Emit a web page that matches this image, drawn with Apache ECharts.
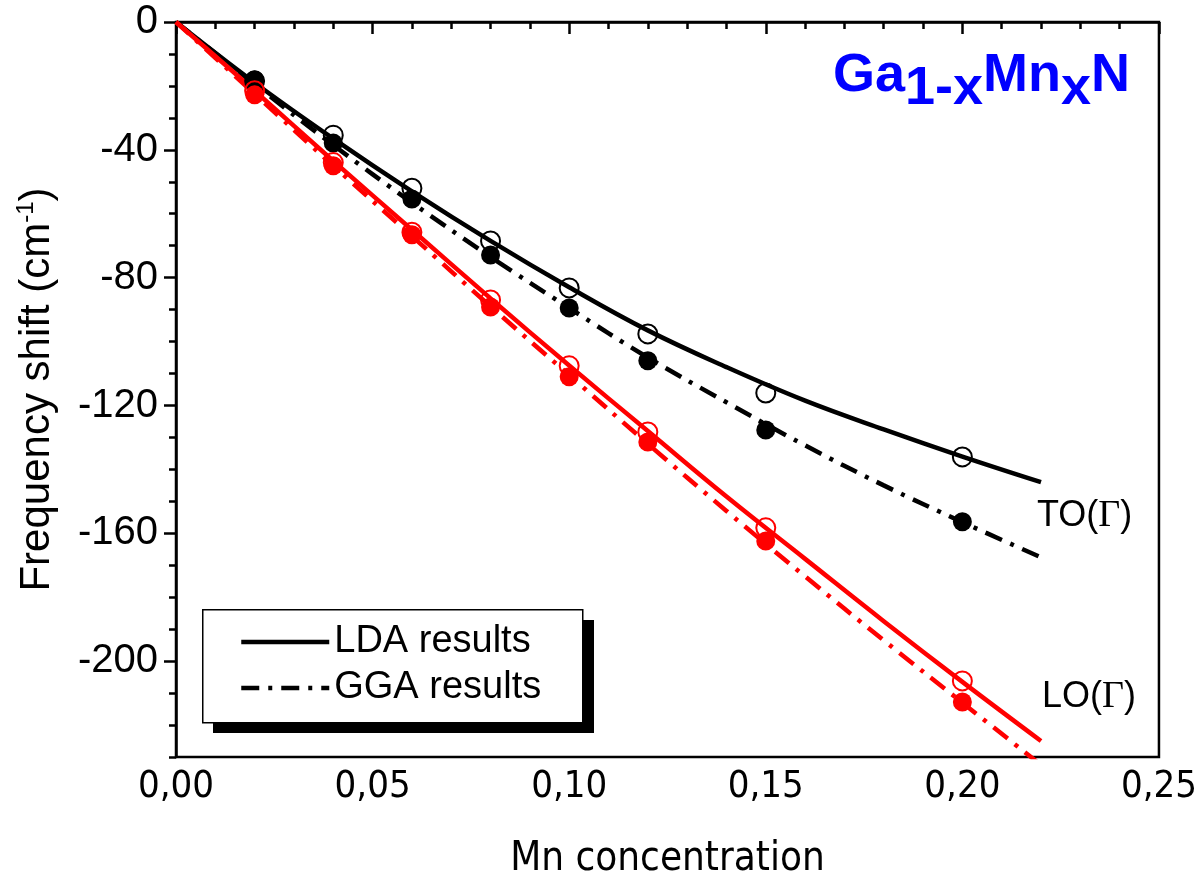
<!DOCTYPE html>
<html><head><meta charset="utf-8">
<script src="https://cdn.jsdelivr.net/npm/echarts@6/dist/echarts.min.js"></script>
<style>html,body{margin:0;padding:0;background:#fff}#c{width:1200px;height:889px}</style>
</head><body><div id="c"></div>
<script>
// Computed points (x = Mn concentration, y = frequency shift in cm^-1)
const concentrations = [0.02, 0.04, 0.06, 0.08, 0.10, 0.12, 0.15, 0.20];
const toLdaPoints = [-18.5, -35.4, -52.0, -68.5, -83.2, -97.6, -116.1, -136.1];
const toGgaPoints = [-18.1, -37.9, -55.4, -72.9, -89.5, -106.0, -127.7, -156.4];
const loLdaPoints = [-21.5, -44.0, -65.8, -87.0, -107.6, -128.3, -158.3, -206.2];
const loGgaPoints = [-22.8, -45.0, -66.6, -89.2, -111.0, -131.4, -162.4, -212.8];
// Fitted curves
const fitX = [0, 0.02, 0.04, 0.06, 0.08, 0.10, 0.12, 0.14, 0.16, 0.18, 0.20, 0.22];
const toLdaFit = [0, -19, -36.5, -53, -68.5, -83, -96.5, -108, -118.5, -127.5, -136, -144];
const toGgaFit = [0, -19.5, -38.5, -56.5, -73.5, -89.5, -105, -119, -132.5, -145, -156.5, -167.5];
const loLdaFit = [0, -21.5, -43.5, -65, -86.5, -107.5, -128, -148.5, -168, -187.5, -206.5, -225];
const loGgaFit = [0, -22.5, -45, -67, -89, -110.5, -132, -153, -173.5, -193.5, -213, -232.5];
// Axis ticks
const yMajorTicks = [0, -40, -80, -120, -160, -200];
const yMinorTicks = [0, -10, -20, -30, -40, -50, -60, -70, -80, -90, -100, -110, -120, -130, -140, -150, -160, -170, -180, -190, -200, -210, -220, -230];
const legendNames = ['LDA results', 'GGA results'];

const pair = (xs, ys) => xs.map((x, i) => [x, ys[i]]);
const RED = '#ff0000', BLACK = '#000000';
const DASHDOT = [18, 9, 4, 9];
const SANS = '"Liberation Sans", Arial, sans-serif';
const NARROW = '"Liberation Sans Narrow", "Arial Narrow", "DejaVu Sans Condensed", sans-serif';

function fit(name, ys, color, dashed) {
  return {
    type: 'line', name: name, data: pair(fitX, ys), smooth: 0.4,
    symbol: 'none', clip: true,
    lineStyle: { color: color, width: 4.5, type: dashed ? DASHDOT : 'solid', cap: 'butt' },
    itemStyle: { color: color }, z: 3
  };
}
function pts(name, ys, color, open) {
  return {
    type: 'scatter', name: name, data: pair(concentrations, ys), symbol: 'circle', symbolSize: 19,
    itemStyle: open ? { color: 'rgba(0,0,0,0)', borderColor: color, borderWidth: 2, opacity: 1 } : { color: color, borderWidth: 0, opacity: 1 },
    z: 4, silent: true
  };
}

const chart = echarts.init(document.getElementById('c'), null, { renderer: 'canvas' });
chart.setOption({
  animation: false,
  backgroundColor: '#ffffff',
  title: {
    text: '{a|Ga}{s|1-x}{a|Mn}{s|x}{a|N}',
    left: 833, top: 49, padding: 0,
    textStyle: {
      rich: {
        a: { fontSize: 54, fontWeight: 'bold', color: '#0000ff', fontFamily: SANS, lineHeight: 54, verticalAlign: 'top' },
        s: { fontSize: 54, fontWeight: 'bold', color: '#0000ff', fontFamily: SANS, lineHeight: 67, verticalAlign: 'bottom' }
      }
    }
  },
  grid: { left: 176, right: 37, top: 22, bottom: 132, show: true, borderColor: '#000', borderWidth: 2.5, backgroundColor: 'rgba(0,0,0,0)' },
  legend: {
    data: legendNames, orient: 'vertical', left: 239, top: 622,
    itemWidth: 88, itemHeight: 20, itemGap: 6, padding: 0,
    backgroundColor: 'rgba(0,0,0,0)', borderWidth: 0,
    selectedMode: false, z: 20,
    itemStyle: { opacity: 0 },
    lineStyle: { width: 4.5 },
    textStyle: { fontSize: 38, color: '#000', fontFamily: SANS, lineHeight: 40, padding: [0, 0, 0, 0] }
  },
  xAxis: {
    type: 'value', min: 0, max: 0.25, interval: 0.05,
    axisLine: { lineStyle: { color: '#000', width: 2.5 } },
    axisTick: { length: 12, lineStyle: { color: '#000', width: 2.5 } },
    minorTick: { show: true, splitNumber: 5, length: 7, lineStyle: { color: '#000', width: 2.5 } },
    splitLine: { show: false }, minorSplitLine: { show: false },
    axisLabel: { formatter: v => v.toFixed(2).replace('.', ','), fontSize: 38, color: '#000', fontFamily: NARROW, margin: 11 },
    name: 'Mn concentration', nameLocation: 'middle', nameGap: 83,
    nameTextStyle: { fontSize: 40, color: '#000', fontFamily: NARROW }
  },
  yAxis: [{
    type: 'value', min: -230, max: 0,
    axisLine: { lineStyle: { color: '#000', width: 2.5 } },
    axisTick: { customValues: yMajorTicks, length: 12, lineStyle: { color: '#000', width: 2.5 } },
    axisLabel: { customValues: yMajorTicks, fontSize: 40, color: '#000', fontFamily: SANS, margin: 18 },
    splitLine: { show: false },
    name: '{a|Frequency shift (cm}{p|-1}{a|)}', nameLocation: 'middle', nameRotate: 90, nameGap: 118,
    nameTextStyle: {
      rich: {
        a: { fontSize: 42, color: '#000', fontFamily: SANS, lineHeight: 44, verticalAlign: 'bottom' },
        p: { fontSize: 24, color: '#000', fontFamily: SANS, lineHeight: 20, verticalAlign: 'top' }
      }
    }
  }, {
    type: 'value', min: -230, max: 0, position: 'left',
    axisLine: { show: false },
    axisTick: { customValues: yMinorTicks, length: 7, lineStyle: { color: '#000', width: 2.5 } },
    axisLabel: { show: false }, splitLine: { show: false }
  }],
  graphic: [
    { type: 'rect', left: 213, top: 620, z: 10, shape: { width: 381, height: 113 }, style: { fill: '#000' } },
    { type: 'rect', left: 202, top: 609, z: 11, shape: { width: 380, height: 113 }, style: { fill: '#fff', stroke: '#000', lineWidth: 1.5 } },
    { type: 'text', left: 1037, top: 497, style: { text: '{a|TO(}{g|Γ}{a|)}', rich: {
      a: { fontSize: 36, fontFamily: SANS, fill: '#000', lineHeight: 40 },
      g: { fontSize: 38, fontFamily: '"Liberation Serif", "Times New Roman", serif', fill: '#000', lineHeight: 40 } } } },
    { type: 'text', left: 1042, top: 678, style: { text: '{a|LO(}{g|Γ}{a|)}', rich: {
      a: { fontSize: 36, fontFamily: SANS, fill: '#000', lineHeight: 40 },
      g: { fontSize: 38, fontFamily: '"Liberation Serif", "Times New Roman", serif', fill: '#000', lineHeight: 40 } } } }
  ],
  series: [
    fit('LDA results', toLdaFit, BLACK, false),
    fit('GGA results', toGgaFit, BLACK, true),
    pts('TO LDA', toLdaPoints, BLACK, true),
    pts('TO GGA', toGgaPoints, BLACK, false),
    fit('LO LDA fit', loLdaFit, RED, false),
    fit('LO GGA fit', loGgaFit, RED, true),
    pts('LO LDA', loLdaPoints, RED, true),
    pts('LO GGA', loGgaPoints, RED, false)
  ]
});
</script></body></html>
